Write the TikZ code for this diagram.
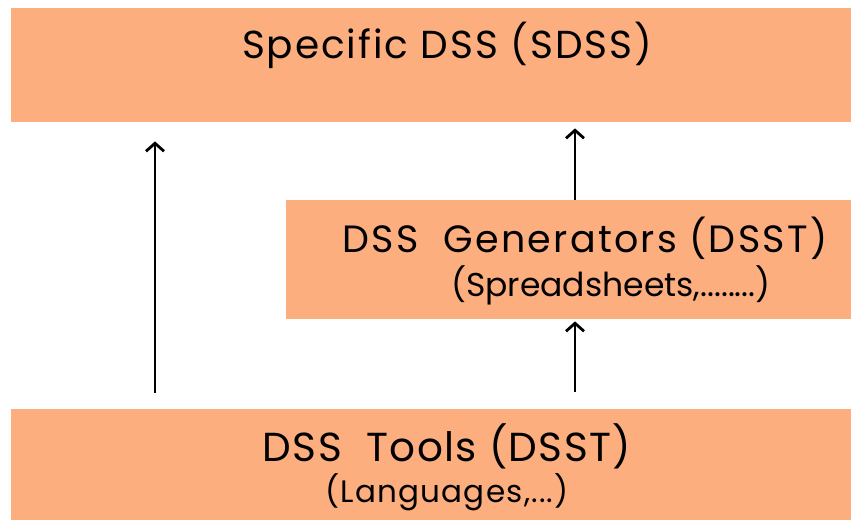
\documentclass[tikz,border=0pt]{standalone}
\usepackage{fontspec}
\setmainfont{Poppins}
\newfontfamily\popA[LetterSpace=5]{Poppins}
\newfontfamily\popB[LetterSpace=6]{Poppins}
\newfontfamily\popC[LetterSpace=3.5]{Poppins}
\newfontfamily\popD[LetterSpace=4]{Poppins}
\usetikzlibrary{arrows.meta}
\definecolor{boxfill}{RGB}{252,174,126}
\tikzset{
  box/.style={fill=boxfill, draw=none, inner sep=0pt, anchor=north west},
  lbl/.style={inner sep=0pt, anchor=base},
  arr/.style={line width=2.8pt, -{Straight Barb[length=8pt,width=18pt,line width=2.8pt]}}
}
\begin{document}
\begin{tikzpicture}[x=1pt,y=1pt]
\useasboundingbox (0,0) rectangle (851,521);
% boxes (y = 521 - image y)
\node[box, minimum width=840pt, minimum height=114pt] (top) at (11,513) {};
\node[box, minimum width=565pt, minimum height=119pt] (mid) at (286,321) {};
\node[box, minimum width=840pt, minimum height=111pt] (bot) at (11,112) {};
% texts
\node[lbl, font=\popA\fontsize{39}{42}\selectfont] (ttop) at (447,462) {Specific DSS (SDSS)};
\node[lbl, font=\popB\fontsize{38}{42}\selectfont] (tmid) at (585,268) {DSS\ \ Generators (DSST)};
\node[lbl, font=\fontsize{33}{36}\selectfont] (smid) at (611,224) {(Spreadsheets,........)};
\node[lbl, font=\popC\fontsize{40.5}{44}\selectfont] (tbot) at (447,59) {DSS\ \ Tools (DSST)};
\node[lbl, font=\popD\fontsize{31}{34}\selectfont] (sbot) at (447,18) {(Languages,...)};
% arrows
\coordinate (l1) at (155,0);
\coordinate (l2) at (575,0);
\draw[arr] ([yshift=16pt]bot.north -| l1) -- ([yshift=-19pt]top.south -| l1);
\draw[arr] (mid.north -| l2) -- ([yshift=-6pt]top.south -| l2);
\draw[arr] ([yshift=17pt]bot.north -| l2) -- ([yshift=-2pt]mid.south -| l2);
\end{tikzpicture}
\end{document}
